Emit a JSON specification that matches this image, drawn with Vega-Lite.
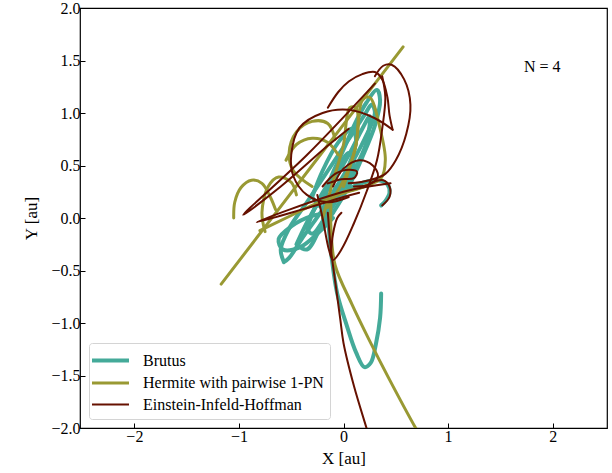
{
  "$schema": "https://vega.github.io/schema/vega-lite/v6.json",
  "width": 527,
  "height": 420,
  "autosize": {"type": "none"},
  "padding": {"left": 80, "top": 8, "right": 5, "bottom": 45},
  "background": "white",
  "config": {
    "view": {"stroke": "black", "strokeWidth": 1.2},
    "font": "Liberation Serif, serif",
    "text": {"font": "Liberation Serif, serif"},
    "axis": {
      "grid": false, "domain": false,
      "tickColor": "black", "tickSize": -5, "tickWidth": 1,
      "labelFont": "Liberation Serif, serif", "labelFontSize": 16, "labelColor": "black", "labelPadding": 5,
      "titleFont": "Liberation Serif, serif", "titleFontSize": 17, "titleFontWeight": "normal", "titleColor": "black"
    },
    "legend": {
      "orient": "bottom-left", "offset": 9, "padding": 6,
      "strokeColor": "#d4d4d4", "cornerRadius": 3, "fillColor": "white",
      "labelFont": "Liberation Serif, serif", "labelFontSize": 16, "labelColor": "black", "labelLimit": 400,
      "symbolType": "M-2,0L2,0", "symbolSize": 342, "symbolOffset": 4, "labelOffset": 21, "rowPadding": 3
    }
  },
  "data": {"values": [
    {"s":"B","t":"b1","i":0,"x":-0.15,"y":0.15},{"s":"B","t":"b1","i":1,"x":-0.14,"y":-0.1},{"s":"B","t":"b1","i":2,"x":-0.11,"y":-0.4},{"s":"B","t":"b1","i":3,"x":-0.06,"y":-0.72},{"s":"B","t":"b1","i":4,"x":0.03,"y":-1.02},{"s":"B","t":"b1","i":5,"x":0.12,"y":-1.28},{"s":"B","t":"b1","i":6,"x":0.2,"y":-1.42},{"s":"B","t":"b1","i":7,"x":0.26,"y":-1.38},{"s":"B","t":"b1","i":8,"x":0.31,"y":-1.2},{"s":"B","t":"b1","i":9,"x":0.35,"y":-0.95},{"s":"B","t":"b1","i":10,"x":0.36,"y":-0.72},
    {"s":"B","t":"b2","i":0,"x":-0.57,"y":-0.42},{"s":"B","t":"b2","i":1,"x":-0.6,"y":-0.3},{"s":"B","t":"b2","i":2,"x":-0.52,"y":-0.1},{"s":"B","t":"b2","i":3,"x":-0.35,"y":0.15},{"s":"B","t":"b2","i":4,"x":-0.15,"y":0.45},{"s":"B","t":"b2","i":5,"x":0.05,"y":0.75},{"s":"B","t":"b2","i":6,"x":0.2,"y":0.98},{"s":"B","t":"b2","i":7,"x":0.27,"y":1.08},{"s":"B","t":"b2","i":8,"x":0.3,"y":1.0},{"s":"B","t":"b2","i":9,"x":0.2,"y":0.75},{"s":"B","t":"b2","i":10,"x":0.02,"y":0.42},{"s":"B","t":"b2","i":11,"x":-0.2,"y":0.08},{"s":"B","t":"b2","i":12,"x":-0.4,"y":-0.2},{"s":"B","t":"b2","i":13,"x":-0.52,"y":-0.38},{"s":"B","t":"b2","i":14,"x":-0.57,"y":-0.42},
    {"s":"B","t":"b3","i":0,"x":-0.1,"y":0.05},{"s":"B","t":"b3","i":1,"x":-0.3,"y":0.02},{"s":"B","t":"b3","i":2,"x":-0.5,"y":-0.08},{"s":"B","t":"b3","i":3,"x":-0.62,"y":-0.2},{"s":"B","t":"b3","i":4,"x":-0.58,"y":-0.3},{"s":"B","t":"b3","i":5,"x":-0.42,"y":-0.28},{"s":"B","t":"b3","i":6,"x":-0.25,"y":-0.15},{"s":"B","t":"b3","i":7,"x":-0.1,"y":0.0},
    {"s":"B","t":"b4","i":0,"x":-0.45,"y":-0.25},{"s":"B","t":"b4","i":1,"x":-0.3,"y":0.05},{"s":"B","t":"b4","i":2,"x":-0.1,"y":0.35},{"s":"B","t":"b4","i":3,"x":0.05,"y":0.6},{"s":"B","t":"b4","i":4,"x":0.18,"y":0.85},{"s":"B","t":"b4","i":5,"x":0.25,"y":0.97},{"s":"B","t":"b4","i":6,"x":0.22,"y":0.72},{"s":"B","t":"b4","i":7,"x":0.1,"y":0.45},{"s":"B","t":"b4","i":8,"x":-0.05,"y":0.2},{"s":"B","t":"b4","i":9,"x":-0.2,"y":-0.05},{"s":"B","t":"b4","i":10,"x":-0.35,"y":-0.3},{"s":"B","t":"b4","i":11,"x":-0.45,"y":-0.25},
    {"s":"B","t":"b5","i":0,"x":-0.2,"y":-0.1},{"s":"B","t":"b5","i":1,"x":-0.15,"y":0.3},{"s":"B","t":"b5","i":2,"x":0.0,"y":0.65},{"s":"B","t":"b5","i":3,"x":0.12,"y":0.92},{"s":"B","t":"b5","i":4,"x":0.22,"y":1.1},{"s":"B","t":"b5","i":5,"x":0.32,"y":1.22},{"s":"B","t":"b5","i":6,"x":0.35,"y":1.12},{"s":"B","t":"b5","i":7,"x":0.3,"y":0.88},{"s":"B","t":"b5","i":8,"x":0.18,"y":0.58},{"s":"B","t":"b5","i":9,"x":0.05,"y":0.3},{"s":"B","t":"b5","i":10,"x":-0.1,"y":0.05},{"s":"B","t":"b5","i":11,"x":-0.2,"y":-0.1},
    {"s":"B","t":"b6","i":0,"x":-0.3,"y":0.2},{"s":"B","t":"b6","i":1,"x":-0.2,"y":0.45},{"s":"B","t":"b6","i":2,"x":-0.05,"y":0.72},{"s":"B","t":"b6","i":3,"x":0.08,"y":0.85},{"s":"B","t":"b6","i":4,"x":0.12,"y":0.75},{"s":"B","t":"b6","i":5,"x":0.05,"y":0.5},{"s":"B","t":"b6","i":6,"x":-0.08,"y":0.28},{"s":"B","t":"b6","i":7,"x":-0.2,"y":0.1},{"s":"B","t":"b6","i":8,"x":-0.3,"y":0.2},
    {"s":"B","t":"b7","i":0,"x":0.05,"y":0.28},{"s":"B","t":"b7","i":1,"x":0.2,"y":0.34},{"s":"B","t":"b7","i":2,"x":0.33,"y":0.36},{"s":"B","t":"b7","i":3,"x":0.42,"y":0.32},{"s":"B","t":"b7","i":4,"x":0.44,"y":0.24},{"s":"B","t":"b7","i":5,"x":0.4,"y":0.16},{"s":"B","t":"b7","i":6,"x":0.36,"y":0.12},
    {"s":"B","t":"b8","i":0,"x":-0.35,"y":-0.1},{"s":"B","t":"b8","i":1,"x":-0.25,"y":0.15},{"s":"B","t":"b8","i":2,"x":-0.1,"y":0.4},{"s":"B","t":"b8","i":3,"x":0.05,"y":0.62},{"s":"B","t":"b8","i":4,"x":0.1,"y":0.55},{"s":"B","t":"b8","i":5,"x":0.0,"y":0.3},{"s":"B","t":"b8","i":6,"x":-0.15,"y":0.05},{"s":"B","t":"b8","i":7,"x":-0.3,"y":-0.15},{"s":"B","t":"b8","i":8,"x":-0.35,"y":-0.1},
    {"s":"H","t":"h1","i":0,"x":-1.17,"y":-0.63},{"s":"H","t":"h1","i":1,"x":-0.3,"y":0.5},{"s":"H","t":"h1","i":2,"x":0.57,"y":1.63},
    {"s":"H","t":"h2","i":0,"x":-0.12,"y":0.15},{"s":"H","t":"h2","i":1,"x":-0.12,"y":-0.1},{"s":"H","t":"h2","i":2,"x":-0.08,"y":-0.45},{"s":"H","t":"h2","i":3,"x":0.08,"y":-0.82},{"s":"H","t":"h2","i":4,"x":0.25,"y":-1.17},{"s":"H","t":"h2","i":5,"x":0.43,"y":-1.52},{"s":"H","t":"h2","i":6,"x":0.69,"y":-2.0},{"s":"H","t":"h2","i":7,"x":0.75,"y":-2.1},
    {"s":"H","t":"h3","i":0,"x":-1.05,"y":0.0},{"s":"H","t":"h3","i":1,"x":-1.04,"y":0.15},{"s":"H","t":"h3","i":2,"x":-0.98,"y":0.29},{"s":"H","t":"h3","i":3,"x":-0.88,"y":0.36},{"s":"H","t":"h3","i":4,"x":-0.78,"y":0.33},{"s":"H","t":"h3","i":5,"x":-0.7,"y":0.2},{"s":"H","t":"h3","i":6,"x":-0.65,"y":0.08},
    {"s":"H","t":"h4","i":0,"x":-0.75,"y":-0.13},{"s":"H","t":"h4","i":1,"x":-0.78,"y":0.05},{"s":"H","t":"h4","i":2,"x":-0.72,"y":0.3},{"s":"H","t":"h4","i":3,"x":-0.62,"y":0.39},{"s":"H","t":"h4","i":4,"x":-0.5,"y":0.34},{"s":"H","t":"h4","i":5,"x":-0.45,"y":0.22},
    {"s":"H","t":"h5","i":0,"x":-0.3,"y":0.3},{"s":"H","t":"h5","i":1,"x":-0.48,"y":0.45},{"s":"H","t":"h5","i":2,"x":-0.52,"y":0.62},{"s":"H","t":"h5","i":3,"x":-0.45,"y":0.82},{"s":"H","t":"h5","i":4,"x":-0.3,"y":0.92},{"s":"H","t":"h5","i":5,"x":-0.15,"y":0.9},{"s":"H","t":"h5","i":6,"x":-0.08,"y":0.75},
    {"s":"H","t":"h6","i":0,"x":-0.55,"y":0.55},{"s":"H","t":"h6","i":1,"x":-0.45,"y":0.7},{"s":"H","t":"h6","i":2,"x":-0.3,"y":0.76},{"s":"H","t":"h6","i":3,"x":-0.15,"y":0.72},{"s":"H","t":"h6","i":4,"x":-0.05,"y":0.6},
    {"s":"H","t":"h7","i":0,"x":-0.2,"y":0.0},{"s":"H","t":"h7","i":1,"x":-0.1,"y":0.35},{"s":"H","t":"h7","i":2,"x":0.0,"y":0.7},{"s":"H","t":"h7","i":3,"x":0.06,"y":1.05},{"s":"H","t":"h7","i":4,"x":0.12,"y":1.05},{"s":"H","t":"h7","i":5,"x":0.12,"y":0.7},{"s":"H","t":"h7","i":6,"x":0.02,"y":0.4},{"s":"H","t":"h7","i":7,"x":-0.15,"y":0.1},
    {"s":"H","t":"h8","i":0,"x":0.0,"y":0.3},{"s":"H","t":"h8","i":1,"x":0.12,"y":0.7},{"s":"H","t":"h8","i":2,"x":0.18,"y":1.12},{"s":"H","t":"h8","i":3,"x":0.25,"y":1.15},{"s":"H","t":"h8","i":4,"x":0.35,"y":0.85},{"s":"H","t":"h8","i":5,"x":0.4,"y":0.55},{"s":"H","t":"h8","i":6,"x":0.36,"y":0.38},{"s":"H","t":"h8","i":7,"x":0.2,"y":0.3},{"s":"H","t":"h8","i":8,"x":0.0,"y":0.25},
    {"s":"H","t":"h9","i":0,"x":-0.8,"y":-0.12},{"s":"H","t":"h9","i":1,"x":-0.55,"y":0.0},{"s":"H","t":"h9","i":2,"x":-0.3,"y":0.12},{"s":"H","t":"h9","i":3,"x":-0.05,"y":0.22},{"s":"H","t":"h9","i":4,"x":0.2,"y":0.3},{"s":"H","t":"h9","i":5,"x":0.3,"y":0.35},
    {"s":"E","t":"e1","i":0,"x":-0.15,"y":0.05},{"s":"E","t":"e1","i":1,"x":-0.12,"y":-0.3},{"s":"E","t":"e1","i":2,"x":-0.08,"y":-0.6},{"s":"E","t":"e1","i":3,"x":-0.03,"y":-0.97},{"s":"E","t":"e1","i":4,"x":0.0,"y":-1.19},{"s":"E","t":"e1","i":5,"x":0.1,"y":-1.6},{"s":"E","t":"e1","i":6,"x":0.22,"y":-2.0},{"s":"E","t":"e1","i":7,"x":0.25,"y":-2.1},
    {"s":"E","t":"e2","i":0,"x":-0.25,"y":0.22},{"s":"E","t":"e2","i":1,"x":-0.2,"y":0.0},{"s":"E","t":"e2","i":2,"x":-0.14,"y":-0.3},{"s":"E","t":"e2","i":3,"x":-0.1,"y":-0.4},{"s":"E","t":"e2","i":4,"x":-0.02,"y":-0.3},{"s":"E","t":"e2","i":5,"x":0.1,"y":-0.05},{"s":"E","t":"e2","i":6,"x":0.22,"y":0.25},{"s":"E","t":"e2","i":7,"x":0.32,"y":0.55},{"s":"E","t":"e2","i":8,"x":0.37,"y":0.85},{"s":"E","t":"e2","i":9,"x":0.4,"y":1.15},{"s":"E","t":"e2","i":10,"x":0.37,"y":1.35},
    {"s":"E","t":"e3","i":0,"x":0.3,"y":1.35},{"s":"E","t":"e3","i":1,"x":0.38,"y":1.45},{"s":"E","t":"e3","i":2,"x":0.46,"y":1.46},{"s":"E","t":"e3","i":3,"x":0.58,"y":1.32},{"s":"E","t":"e3","i":4,"x":0.64,"y":1.08},{"s":"E","t":"e3","i":5,"x":0.6,"y":0.8},{"s":"E","t":"e3","i":6,"x":0.5,"y":0.55},{"s":"E","t":"e3","i":7,"x":0.4,"y":0.42},{"s":"E","t":"e3","i":8,"x":0.25,"y":0.36},{"s":"E","t":"e3","i":9,"x":0.05,"y":0.33},
    {"s":"E","t":"e4","i":0,"x":0.05,"y":0.2},{"s":"E","t":"e4","i":1,"x":-0.15,"y":0.15},{"s":"E","t":"e4","i":2,"x":-0.35,"y":0.22},{"s":"E","t":"e4","i":3,"x":-0.48,"y":0.4},{"s":"E","t":"e4","i":4,"x":-0.5,"y":0.6},{"s":"E","t":"e4","i":5,"x":-0.42,"y":0.86},{"s":"E","t":"e4","i":6,"x":-0.2,"y":1.0},{"s":"E","t":"e4","i":7,"x":0.05,"y":1.03},{"s":"E","t":"e4","i":8,"x":0.3,"y":0.95},{"s":"E","t":"e4","i":9,"x":0.47,"y":0.84},
    {"s":"E","t":"e5","i":0,"x":-0.15,"y":1.05},{"s":"E","t":"e5","i":1,"x":-0.05,"y":1.2},{"s":"E","t":"e5","i":2,"x":0.05,"y":1.3},{"s":"E","t":"e5","i":3,"x":0.18,"y":1.37},{"s":"E","t":"e5","i":4,"x":0.3,"y":1.39},{"s":"E","t":"e5","i":5,"x":0.37,"y":1.32},{"s":"E","t":"e5","i":6,"x":0.42,"y":1.15},{"s":"E","t":"e5","i":7,"x":0.44,"y":0.98},{"s":"E","t":"e5","i":8,"x":0.47,"y":0.84},
    {"s":"E","t":"e6","i":0,"x":0.3,"y":1.28},{"s":"E","t":"e6","i":1,"x":-0.35,"y":0.6},{"s":"E","t":"e6","i":2,"x":-0.96,"y":0.03},{"s":"E","t":"e6","i":3,"x":-0.6,"y":0.3},{"s":"E","t":"e6","i":4,"x":-0.16,"y":0.68},{"s":"E","t":"e6","i":5,"x":0.05,"y":0.85},
    {"s":"E","t":"e7","i":0,"x":0.45,"y":0.33},{"s":"E","t":"e7","i":1,"x":0.0,"y":0.25},{"s":"E","t":"e7","i":2,"x":-0.83,"y":-0.04},{"s":"E","t":"e7","i":3,"x":-0.4,"y":0.08},{"s":"E","t":"e7","i":4,"x":0.0,"y":0.2},{"s":"E","t":"e7","i":5,"x":0.15,"y":0.24},
    {"s":"E","t":"e8","i":0,"x":-0.2,"y":0.3},{"s":"E","t":"e8","i":1,"x":-0.08,"y":0.42},{"s":"E","t":"e8","i":2,"x":0.05,"y":0.46},{"s":"E","t":"e8","i":3,"x":0.13,"y":0.44},{"s":"E","t":"e8","i":4,"x":0.1,"y":0.38},{"s":"E","t":"e8","i":5,"x":-0.02,"y":0.37},{"s":"E","t":"e8","i":6,"x":-0.15,"y":0.33},
    {"s":"E","t":"e9","i":0,"x":-0.1,"y":0.3},{"s":"E","t":"e9","i":1,"x":0.0,"y":0.47},{"s":"E","t":"e9","i":2,"x":0.15,"y":0.55},{"s":"E","t":"e9","i":3,"x":0.28,"y":0.5},{"s":"E","t":"e9","i":4,"x":0.33,"y":0.4},{"s":"E","t":"e9","i":5,"x":0.25,"y":0.32},{"s":"E","t":"e9","i":6,"x":0.1,"y":0.3},
    {"s":"E","t":"e10","i":0,"x":0.25,"y":0.33},{"s":"E","t":"e10","i":1,"x":0.38,"y":0.36},{"s":"E","t":"e10","i":2,"x":0.44,"y":0.3},{"s":"E","t":"e10","i":3,"x":0.44,"y":0.2},{"s":"E","t":"e10","i":4,"x":0.37,"y":0.12},
    {"s":"E","t":"e11","i":0,"x":-0.12,"y":-0.35},{"s":"E","t":"e11","i":1,"x":-0.1,"y":-0.15},{"s":"E","t":"e11","i":2,"x":-0.06,"y":0.0},{"s":"E","t":"e11","i":3,"x":-0.02,"y":0.05}
  ]},
  "encoding": {
    "x": {"field": "x", "type": "quantitative", "scale": {"domain": [-2.52, 2.52], "nice": false, "zero": false},
          "axis": {"title": "X [au]", "values": [-2, -1, 0, 1, 2], "format": "d", "titlePadding": 6}},
    "y": {"field": "y", "type": "quantitative", "scale": {"domain": [-2, 2], "nice": false, "zero": false},
          "axis": {"title": "Y [au]", "values": [-2, -1.5, -1, -0.5, 0, 0.5, 1, 1.5, 2], "format": ".1f", "titlePadding": 10}}
  },
  "layer": [
    {
      "transform": [{"filter": "datum.s == 'B'"}],
      "mark": {"type": "line", "interpolate": "catmull-rom", "clip": true, "strokeCap": "round", "strokeJoin": "round"},
      "encoding": {
        "color": {"field": "s", "type": "nominal", "scale": {"domain": ["B", "H", "E"], "range": ["#44AA99", "#999933", "#661100"]},
                  "legend": {"title": null, "labelExpr": "datum.label == 'B' ? 'Brutus' : datum.label == 'H' ? 'Hermite with pairwise 1-PN' : 'Einstein-Infeld-Hoffman'"}},
        "strokeWidth": {"field": "s", "type": "nominal", "scale": {"domain": ["B", "H", "E"], "range": [4, 2, 2]},
                  "legend": {"title": null, "labelExpr": "datum.label == 'B' ? 'Brutus' : datum.label == 'H' ? 'Hermite with pairwise 1-PN' : 'Einstein-Infeld-Hoffman'"}},
        "detail": {"field": "t"},
        "order": {"field": "i"}
      }
    },
    {
      "transform": [{"filter": "datum.s == 'H'"}],
      "mark": {"type": "line", "interpolate": "catmull-rom", "clip": true, "strokeCap": "round", "strokeJoin": "round"},
      "encoding": {
        "color": {"field": "s", "type": "nominal"},
        "strokeWidth": {"field": "s", "type": "nominal"},
        "detail": {"field": "t"},
        "order": {"field": "i"}
      }
    },
    {
      "transform": [{"filter": "datum.s == 'E'"}],
      "mark": {"type": "line", "interpolate": "catmull-rom", "clip": true, "strokeCap": "round", "strokeJoin": "round"},
      "encoding": {
        "color": {"field": "s", "type": "nominal"},
        "strokeWidth": {"field": "s", "type": "nominal"},
        "detail": {"field": "t"},
        "order": {"field": "i"}
      }
    },
    {
      "data": {"values": [{"x": 1.9, "y": 1.44, "label": "N = 4"}]},
      "mark": {"type": "text", "font": "Liberation Serif, serif", "fontSize": 16, "color": "black", "align": "center", "baseline": "middle"},
      "encoding": {"text": {"field": "label"}}
    }
  ]
}
